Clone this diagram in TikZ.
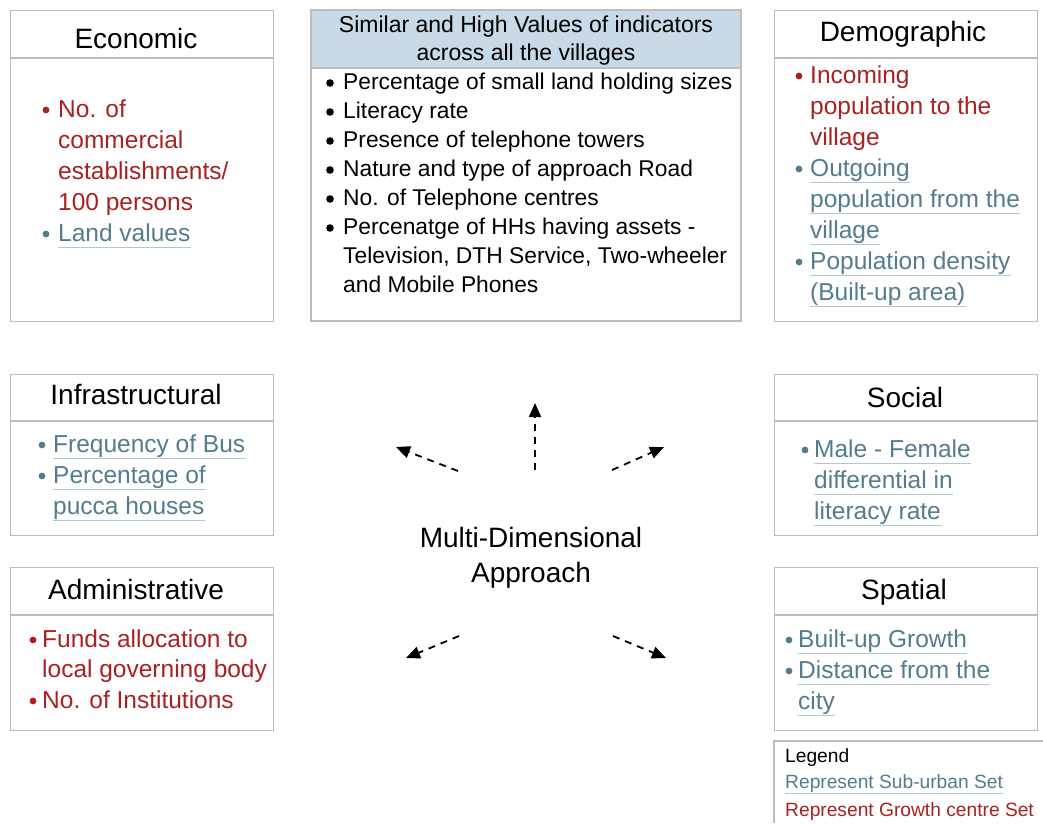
\documentclass[tikz,border=0pt]{standalone}
\usepackage{fontspec}
\setmainfont{Liberation Sans}
\usetikzlibrary{arrows.meta}
\definecolor{myred}{HTML}{A82222}
\definecolor{myblue}{HTML}{537D8E}
\definecolor{uline}{HTML}{B4C6CF}
\definecolor{frame}{HTML}{BDBDBD}
\definecolor{hdrfill}{HTML}{C8DAE8}
\tikzset{
  panel/.style={draw=frame, line width=1.1pt, rectangle, inner sep=0pt, anchor=north west},
  sepline/.style={draw=frame, line width=1.1pt},
  ttl/.style={font=\fontsize{28}{33}\selectfont, inner sep=0pt, anchor=base},
  hdr/.style={font=\fontsize{23}{28}\selectfont, inner sep=0pt, anchor=base},
  ln/.style={anchor=west, inner sep=0pt, yshift=-1pt, text height=18.4pt, text depth=6.1pt, font=\fontsize{24.5}{31}\selectfont},
  cln/.style={anchor=west, inner sep=0pt, yshift=-1.3pt, text height=17.1pt, text depth=5.7pt, font=\fontsize{22.8}{29}\selectfont, text=black},
  red/.style={ln, text=myred},
  blu/.style={ln, text=myblue, append after command={\pgfextra{\let\mainnode=\tikzlastnode}
      (\mainnode.south west) edge[draw=uline, line width=1pt] (\mainnode.south east)}},
  lgd/.style={anchor=west, inner sep=0pt, text height=14.3pt, text depth=4.6pt, font=\fontsize{19.2}{23}\selectfont},
  mdt/.style={font=\fontsize{28}{35}\selectfont, inner sep=0pt, anchor=base},
  darr/.style={line width=1.8pt, dash pattern=on 7pt off 6pt, -{Triangle[length=14pt,width=12pt]}},
}
\newcommand{\rb}[2]{\fill[myred] (#1,#2) circle (3.4pt);}
\newcommand{\bb}[2]{\fill[myblue] (#1,#2) circle (3.4pt);}
\newcommand{\kb}[2]{\fill[black] (#1,#2) circle (3.8pt);}
\begin{document}
\begin{tikzpicture}[x=1pt,y=-1pt]
\useasboundingbox (0,0) rectangle (1043,823);
\fill[white] (0,0) rectangle (1043,823);

% ---------- Economic ----------
\node[panel, minimum width=263pt, minimum height=311pt] (econ) at (10,10) {};
\draw[sepline] (10,58) -- (273,58);
\node[ttl] (econT) at (136,48) {Economic};
\rb{46}{110}
\node[red] (e1) at (58,110) {No. of};
\node[red] (e2) at (58,141) {commercial};
\node[red] (e3) at (58,172) {establishments/};
\node[red] (e4) at (58,203) {100 persons};
\bb{46}{234}
\node[blu] (e5) at (58,234) {Land values};

% ---------- Centre ----------
\node[panel, minimum width=430pt, minimum height=311pt] (cen) at (311,10) {};
\fill[hdrfill] (311.5,10.5) rectangle (740.5,68);
\draw[sepline] (311,68) -- (741,68);
\draw[frame, line width=1.1pt] (311,10) rectangle (741,321);
\node[hdr] (cenT1) at (526,32) {Similar and High Values of indicators};
\node[hdr] (cenT2) at (526,60) {across all the villages};
\kb{330}{83}\kb{330}{112}\kb{330}{141}\kb{330}{170}\kb{330}{199}\kb{330}{228}
\node[cln] (c1) at (343,82) {Percentage of small land holding sizes};
\node[cln] (c2) at (343,111) {Literacy rate};
\node[cln] (c3) at (343,140) {Presence of telephone towers};
\node[cln] (c4) at (343,169) {Nature and type of approach Road};
\node[cln] (c5) at (343,198) {No. of Telephone centres};
\node[cln] (c6) at (343,227) {Percenatge of HHs having assets -};
\node[cln] (c7) at (343,256) {Television, DTH Service, Two-wheeler};
\node[cln] (c8) at (343,285) {and Mobile Phones};

% ---------- Demographic ----------
\node[panel, minimum width=263pt, minimum height=311pt] (demo) at (774,10) {};
\draw[sepline] (774,58) -- (1037,58);
\node[ttl] (demoT) at (903,41) {Demographic};
\rb{799}{76}
\node[red] (d1) at (810,76) {Incoming};
\node[red] (d2) at (810,107) {population to the};
\node[red] (d3) at (810,138) {village};
\bb{799}{169}
\node[blu] (d4) at (810,169) {Outgoing};
\node[blu] (d5) at (810,200) {population from the};
\node[blu] (d6) at (810,231) {village};
\bb{799}{262}
\node[blu] (d7) at (810,262) {Population density};
\node[blu] (d8) at (810,293) {(Built-up area)};

% ---------- Infrastructural ----------
\node[panel, minimum width=263pt, minimum height=161pt] (infra) at (10,374) {};
\draw[sepline] (10,421) -- (273,421);
\node[ttl] (infraT) at (136,404) {Infrastructural};
\bb{42}{445}
\node[blu] (i1) at (53,445) {Frequency of Bus};
\bb{42}{476}
\node[blu] (i2) at (53,476) {Percentage of};
\node[blu] (i3) at (53,507) {pucca houses};

% ---------- Administrative ----------
\node[panel, minimum width=263pt, minimum height=163pt] (adm) at (10,567) {};
\draw[sepline] (10,615) -- (273,615);
\node[ttl] (admT) at (136,599) {Administrative};
\rb{33}{640}
\node[red] (a1) at (42,640) {Funds allocation to};
\node[red] (a2) at (42,670) {local governing body};
\rb{33}{701}
\node[red] (a3) at (42,701) {No. of Institutions};

% ---------- Social ----------
\node[panel, minimum width=263pt, minimum height=161pt] (soc) at (774,374) {};
\draw[sepline] (774,421) -- (1037,421);
\node[ttl] (socT) at (905,407) {Social};
\bb{805}{450}
\node[blu] (s1) at (814,450) {Male - Female};
\node[blu] (s2) at (814,481) {differential in};
\node[blu] (s3) at (814,512) {literacy rate};

% ---------- Spatial ----------
\node[panel, minimum width=263pt, minimum height=163pt] (spa) at (774,567) {};
\draw[sepline] (774,615) -- (1037,615);
\node[ttl] (spaT) at (904,599) {Spatial};
\bb{789}{640}
\node[blu] (p1) at (798,640) {Built-up Growth};
\bb{789}{671}
\node[blu] (p2) at (798,671) {Distance from the};
\node[blu] (p3) at (798,702) {city};

% ---------- Legend ----------
\draw[frame, line width=1.1pt] (1043,741) -- (774,741) -- (774,823);
\node[lgd, text=black] (lg0) at (785,758) {Legend};
\node[lgd, text=myblue, append after command={\pgfextra{\let\mainnode=\tikzlastnode}
      (\mainnode.south west) edge[draw=uline, line width=1pt] (\mainnode.south east)}] (lg1) at (785,784) {Represent Sub-urban Set};
\node[lgd, text=myred] (lg2) at (785,812) {Represent Growth centre Set};

% ---------- Centre text and arrows ----------
\node[mdt] (mda1) at (531,547) {Multi-Dimensional};
\node[mdt] (mda2) at (531,582) {Approach};
\coordinate (t1) at (458,471); \coordinate (h1) at (396,447);
\coordinate (t2) at (535,470); \coordinate (h2) at (535,403);
\coordinate (t3) at (612,470); \coordinate (h3) at (664,447);
\coordinate (t4) at (459,636); \coordinate (h4) at (406,658);
\coordinate (t5) at (613,636); \coordinate (h5) at (666,658);
\draw[darr] (t1) -- (h1);
\draw[darr] (t2) -- (h2);
\draw[darr] (t3) -- (h3);
\draw[darr] (t4) -- (h4);
\draw[darr] (t5) -- (h5);
\end{tikzpicture}
\end{document}
